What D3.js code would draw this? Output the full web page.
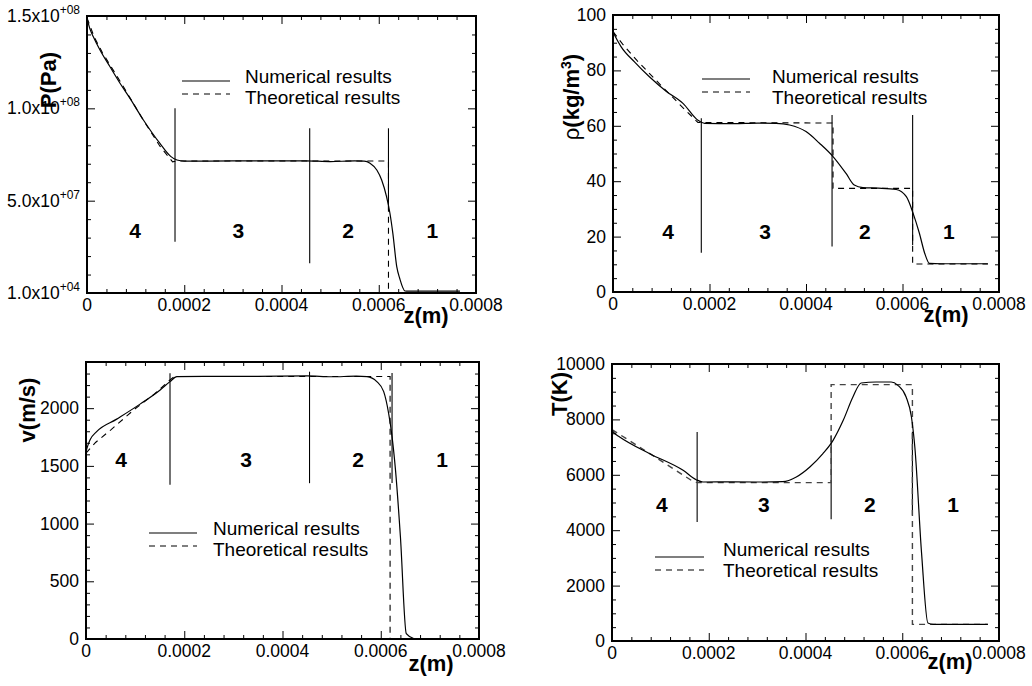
<!DOCTYPE html>
<html><head><meta charset="utf-8">
<script src="https://cdn.jsdelivr.net/npm/d3@7"></script>
<style>
body{margin:0;background:#fff}
svg{display:block}
text{font-family:"Liberation Sans",Arial,Helvetica,sans-serif;fill:#000}
</style>
</head><body>
<svg id="chart" width="1032" height="686"></svg>
<script>
// ---------- DATA ----------
const zDomain = [0, 0.0008];
const zTicks = [0, 0.0002, 0.0004, 0.0006, 0.0008];
const zTickLabels = ["0", "0.0002", "0.0004", "0.0006", "0.0008"];
const regionNames = ["4", "3", "2", "1"];
const legendLabels = ["Numerical results", "Theoretical results"];

// Pressure P (Pa)
const pTicks = [1e4, 5e7, 1e8, 1.5e8];
const pTickLabels = [["1.0x10", "+04"], ["5.0x10", "+07"], ["1.0x10", "+08"], ["1.5x10", "+08"]];
const pNumerical = [[0,1.487e8],[0.000006,1.43e8],[0.000013,1.388e8],[0.0000267,1.316e8],[0.0000473,1.225e8],[0.0000679,1.136e8],[0.0000884,1.054e8],[0.000116,9.37e7],[0.00015,8.1e7],[0.000172,7.4e7],[0.000185,7.2e7],[0.0002,7.14e7],[0.0003,7.15e7],[0.0004,7.15e7],[0.00045,7.16e7],[0.0005,7.12e7],[0.00055,7.15e7],[0.00057,7.14e7],[0.000582,7.03e7],[0.000596,6.66e7],[0.000606,6.12e7],[0.000616,5.22e7],[0.000623,4.32e7],[0.000629,3.23e7],[0.000637,1.43e7],[0.000643,8e6],[0.000654,1.1e6],[0.00066,1.0e6],[0.000767,1.0e6]];
const pTheoretical = [[0,1.49e8],[0.000015,1.385e8],[0.000032,1.3e8],[0.000052,1.215e8],[0.000072,1.13e8],[0.00009,1.05e8],[0.000116,9.35e7],[0.00015,7.95e7],[0.000176,7.1e7],[0.000185,7.15e7],[0.00062,7.15e7],[0.00062,1e4],[0.000767,1e4]];
const pDividers = [[0.000181,1.0e8,2.78e7],[0.000458,8.92e7,1.61e7],[0.00062,8.92e7,4.5e7]];
const pRegionPos = [[0.0000987,3.41e7],[0.000311,3.41e7],[0.000537,3.41e7],[0.00071,3.41e7]];

// Density rho (kg/m3)
const rhoTicks = [0, 20, 40, 60, 80, 100];
const rhoTickLabels = ["0", "20", "40", "60", "80", "100"];
const rhoNumerical = [[0,94],[0.000004,92.5],[0.0000166,88.6],[0.000045,83],[0.0000754,77.7],[0.00011,72.5],[0.000145,68.1],[0.000176,62],[0.00019,60.9],[0.00025,60.8],[0.0003,61],[0.000338,60.9],[0.000366,60.3],[0.0004,57.9],[0.000428,53.7],[0.000456,48.9],[0.000483,42.8],[0.0005,38.6],[0.000518,37.7],[0.00055,37.5],[0.000587,37],[0.000608,34.4],[0.000622,28.4],[0.000635,21.2],[0.000646,14],[0.000656,10.3],[0.00068,10.2],[0.000777,10.2]];
const rhoTheoretical = [[0,94],[0.00002,89.5],[0.00005,83.5],[0.0001,74.5],[0.00014,67.4],[0.000176,61.2],[0.000456,61],[0.000456,37.4],[0.000621,37.4],[0.000621,10.1],[0.000777,10.1]];
const rhoDividers = [[0.000183,62.7,14.2],[0.000454,63.9,16.4],[0.000621,63.9,17]];
const rhoRegionPos = [[0.000114,22],[0.000315,22],[0.000522,22],[0.000696,22]];

// Velocity v (m/s)
const vTicks = [0, 500, 1000, 1500, 2000];
const vTickLabels = ["0", "500", "1000", "1500", "2000"];
const vNumerical = [[0,1624],[0.000004,1680],[0.0000081,1725],[0.0000217,1797],[0.0000625,1905],[0.00011,2035],[0.000151,2158],[0.000171,2230],[0.000185,2273],[0.00025,2275],[0.00035,2276],[0.00045,2280],[0.0005,2272],[0.00055,2277],[0.000572,2274],[0.000592,2230],[0.000606,2143],[0.000616,1956],[0.000623,1754],[0.00063,1465],[0.00064,888],[0.000652,46],[0.000667,4]];
const vTheoretical = [[0,1610],[0.00002,1705],[0.00005,1810],[0.0001,1995],[0.00014,2125],[0.000171,2245],[0.00018,2274],[0.000619,2274],[0.000619,0]];
const vDividers = [[0.000171,2302,1336],[0.000455,2316,1350],[0.000623,2305,1352]];
const vRegionPos = [[0.0000712,1560],[0.000326,1560],[0.000554,1560],[0.000725,1560]];

// Temperature T (K)
const tTicks = [0, 2000, 4000, 6000, 8000, 10000];
const tTickLabels = ["0", "2000", "4000", "6000", "8000", "10000"];
const tNumerical = [[0,7605],[0.000005,7500],[0.0000158,7365],[0.0000779,6763],[0.000147,6161],[0.000174,5824],[0.000188,5740],[0.00025,5745],[0.0003,5740],[0.000353,5752],[0.000381,5921],[0.000409,6282],[0.000436,6763],[0.000457,7244],[0.000478,7966],[0.000498,8809],[0.000515,9314],[0.000546,9350],[0.000577,9350],[0.000591,9230],[0.000608,8809],[0.000619,8087],[0.000626,7004],[0.00064,3153],[0.000653,650],[0.000664,602],[0.000777,602]];
const tTheoretical = [[0,7630],[0.00005,7080],[0.0001,6520],[0.000164,5800],[0.000176,5716],[0.000453,5716],[0.000453,9254],[0.000621,9254],[0.000621,602],[0.000777,602]];
const tDividers = [[0.000176,7545,4296],[0.000453,7425,4392],[0.000621,7556,4549]];
const tRegionPos = [[0.000103,4946],[0.000314,4946],[0.000533,4946],[0.000705,4946]];

// ---------- LAYOUT ----------
const panels = [
  {left:87, top:16, width:389, height:277, yDomain:[1e4,1.5e8], yTicks:pTicks, yLabels:pTickLabels, yMinorStep:1e7,
   num:pNumerical, theo:pTheoretical, dividers:pDividers, regions:pRegionPos, title:"P(Pa)", titleX:48, titleY:80,
   legend:{lx0:95, lx1:143, ly:65, tx:158, ty:67}, zTitle:{dx:-50, dy:30}, theoColor:"#000"},
  {left:613, top:15, width:386, height:277, yDomain:[0,100], yTicks:rhoTicks, yLabels:rhoTickLabels, yMinorStep:5,
   num:rhoNumerical, theo:rhoTheoretical, dividers:rhoDividers, regions:rhoRegionPos, title:"rho", titleX:571, titleY:97,
   legend:{lx0:89, lx1:137, ly:64, tx:159, ty:68}, zTitle:{dx:-53, dy:30}, theoColor:"#000"},
  {left:86, top:362, width:393, height:277, yDomain:[0,2400], yTicks:vTicks, yLabels:vTickLabels, yMinorStep:100,
   num:vNumerical, theo:vTheoretical, dividers:vDividers, regions:vRegionPos, title:"v(m/s)", titleX:27, titleY:410,
   legend:{lx0:63, lx1:111, ly:171, tx:127, ty:173}, zTitle:{dx:-48, dy:32}, theoColor:"#000"},
  {left:612, top:364, width:387, height:277, yDomain:[0,10000], yTicks:tTicks, yLabels:tTickLabels, yMinorStep:500,
   num:tNumerical, theo:tTheoretical, dividers:tDividers, regions:tRegionPos, title:"T(K)", titleX:559, titleY:394,
   legend:{lx0:43, lx1:92, ly:193, tx:111, ty:192}, zTitle:{dx:-49, dy:28}, theoColor:"#444"}
];

const svg = d3.select("#chart");
const TICK_FONT = "17.5px";
const LEGEND_FONT = 19;
const LEGEND_GAP = 20.5;

function inwardTicks(g, axis, transform) {
  g.append("g").attr("transform", transform).call(axis)
    .call(s => { s.select(".domain").remove(); s.selectAll("text").remove();
                 s.selectAll("line").attr("stroke", "#000").attr("stroke-width", 1); });
}

panels.forEach(p => {
  const g = svg.append("g").attr("transform", `translate(${p.left},${p.top})`);
  const x = d3.scaleLinear().domain(zDomain).range([0, p.width]);
  const y = d3.scaleLinear().domain(p.yDomain).range([p.height, 0]);
  const W = p.width, H = p.height;

  const xMinor = d3.range(0, zDomain[1] + 1e-9, 0.00004).filter(v => !zTicks.some(t => Math.abs(t - v) < 1e-9));
  const yMinor = d3.range(0, p.yDomain[1] + 1e-6, p.yMinorStep)
      .filter(v => v >= p.yDomain[0] && v <= p.yDomain[1] && !p.yTicks.some(t => Math.abs(t - v) < p.yMinorStep * 0.01));

  // ticks on all four sides, pointing inward
  inwardTicks(g, d3.axisBottom(x).tickValues(zTicks).tickSize(-8), `translate(0,${H})`);
  inwardTicks(g, d3.axisBottom(x).tickValues(xMinor).tickSize(-4), `translate(0,${H})`);
  inwardTicks(g, d3.axisTop(x).tickValues(zTicks).tickSize(-8), `translate(0,0)`);
  inwardTicks(g, d3.axisTop(x).tickValues(xMinor).tickSize(-4), `translate(0,0)`);
  inwardTicks(g, d3.axisLeft(y).tickValues(p.yTicks).tickSize(-8), `translate(0,0)`);
  inwardTicks(g, d3.axisLeft(y).tickValues(yMinor).tickSize(-4), `translate(0,0)`);
  inwardTicks(g, d3.axisRight(y).tickValues(p.yTicks).tickSize(-8), `translate(${W},0)`);
  inwardTicks(g, d3.axisRight(y).tickValues(yMinor).tickSize(-4), `translate(${W},0)`);

  // x tick labels
  g.selectAll(".xl").data(zTicks).enter().append("text")
    .attr("x", d => x(d)).attr("y", H + 18).attr("text-anchor", "middle")
    .style("font-size", TICK_FONT).text((d, i) => zTickLabels[i]);

  // y tick labels
  p.yTicks.forEach((v, i) => {
    const lab = p.yLabels[i];
    const t = g.append("text").attr("x", -7).attr("y", y(v) + 6).attr("text-anchor", "end").style("font-size", TICK_FONT);
    if (Array.isArray(lab)) {
      t.append("tspan").text(lab[0]);
      t.append("tspan").attr("dy", -8).style("font-size", "12px").text(lab[1]);
    } else {
      t.text(lab);
    }
  });

  // dividers
  g.selectAll(".div").data(p.dividers).enter().append("line")
    .attr("x1", d => x(d[0])).attr("x2", d => x(d[0]))
    .attr("y1", d => y(d[1])).attr("y2", d => y(d[2]))
    .attr("stroke", "#000").attr("stroke-width", 1.1);

  // theoretical
  g.append("path").datum(p.theo)
    .attr("d", d3.line().x(d => x(d[0])).y(d => y(d[1])))
    .attr("fill", "none").attr("stroke", p.theoColor).attr("stroke-width", p.theoColor === "#000" ? 1.1 : 1.4)
    .attr("stroke-dasharray", "6,5");

  // numerical
  g.append("path").datum(p.num)
    .attr("d", d3.line().x(d => x(d[0])).y(d => y(d[1])).curve(d3.curveMonotoneX))
    .attr("fill", "none").attr("stroke", "#000").attr("stroke-width", 1.2);

  // frame
  g.append("rect").attr("width", W).attr("height", H).attr("fill", "none").attr("stroke", "#000").attr("stroke-width", 2);

  // region numbers
  g.selectAll(".reg").data(p.regions).enter().append("text")
    .attr("x", d => x(d[0])).attr("y", d => y(d[1]) + 8).attr("text-anchor", "middle")
    .style("font-size", "21px").style("font-weight", "bold").text((d, i) => regionNames[i]);

  // legend
  const L = p.legend;
  g.append("line").attr("x1", L.lx0).attr("x2", L.lx1).attr("y1", L.ly).attr("y2", L.ly).attr("stroke", "#000").attr("stroke-width", 1.1);
  g.append("line").attr("x1", L.lx0).attr("x2", L.lx1).attr("y1", L.ly + 13).attr("y2", L.ly + 13).attr("stroke", "#000").attr("stroke-width", 1.1).attr("stroke-dasharray", "6,5");
  g.append("text").attr("x", L.tx).attr("y", L.ty).style("font-size", LEGEND_FONT + "px").text(legendLabels[0]);
  g.append("text").attr("x", L.tx).attr("y", L.ty + LEGEND_GAP).style("font-size", LEGEND_FONT + "px").text(legendLabels[1]);

  // z title
  g.append("text").attr("x", W + p.zTitle.dx).attr("y", H + p.zTitle.dy).attr("text-anchor", "middle")
    .style("font-size", "22px").style("font-weight", "bold").text("z(m)");

  // y title
  const yt = svg.append("text").attr("transform", `translate(${p.titleX},${p.titleY}) rotate(-90)`)
    .attr("text-anchor", "middle").attr("dy", "0.35em").style("font-size", "22px").style("font-weight", "bold");
  if (p.title === "rho") {
    yt.append("tspan").style("font-weight", "normal").text("ρ");
    yt.append("tspan").text("(kg/m");
    yt.append("tspan").attr("dy", -8).style("font-size", "14px").text("3");
    yt.append("tspan").attr("dy", 8).text(")");
  } else {
    yt.text(p.title);
  }
});
</script>
</body></html>
